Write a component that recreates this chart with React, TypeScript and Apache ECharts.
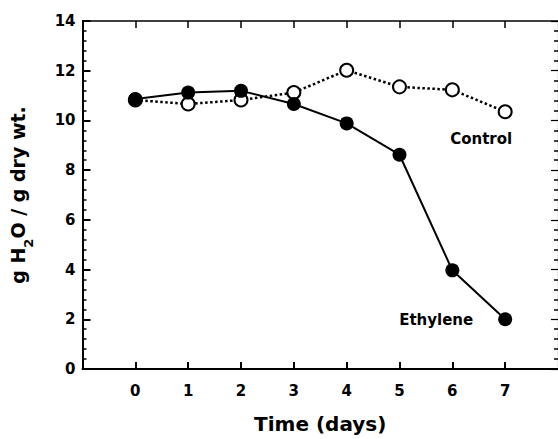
import React, { useEffect, useRef } from "react";
import * as echarts from "echarts";

const days = [0, 1, 2, 3, 4, 5, 6, 7];
const ethylene = [10.86, 11.12, 11.19, 10.66, 9.88, 8.62, 3.97, 2.0];
const control = [10.82, 10.66, 10.82, 11.12, 12.02, 11.35, 11.23, 10.35];
const seriesNames = ["Control", "Ethylene"];
const yTicks = [0, 2, 4, 6, 8, 10, 12, 14];

const FONT = "DejaVu Sans";

export default function App() {
  const ref = useRef<HTMLDivElement>(null);
  useEffect(() => {
    if (!ref.current) return;
    const chart = echarts.init(ref.current, null, { renderer: "svg" });
    const last = days.length - 1;
    const mk = (vals: number[], name: string, offset: number[]) =>
      vals.map((v, i) =>
        i === last
          ? {
              value: [days[i], v],
              label: {
                show: true,
                formatter: name,
                position: "inside",
                offset,
                color: "#000",
                fontFamily: FONT,
                fontWeight: "bold",
                fontSize: 15,
              },
            }
          : { value: [days[i], v] }
      );
    const xCommon = {
      type: "value",
      min: -1,
      max: 8,
      interval: 1,
      splitLine: { show: false },
    };
    const yCommon = {
      type: "value",
      min: yTicks[0],
      max: yTicks[yTicks.length - 1],
      interval: 2,
      splitLine: { show: false },
      minorTick: { show: true, splitNumber: 5, length: 4, lineStyle: { color: "#000", width: 1.5 } },
      minorSplitLine: { show: false },
    };
    chart.setOption({
      animation: false,
      backgroundColor: "#fff",
      grid: { left: 81, right: 0, top: 21, bottom: 70, containLabel: false },
      xAxis: [
        {
          ...xCommon,
          position: "bottom",
          name: "Time (days)",
          nameLocation: "middle",
          nameGap: 45,
          nameTextStyle: { fontFamily: FONT, fontWeight: "bold", fontSize: 20, color: "#000" },
          axisLine: { show: true, onZero: false, lineStyle: { color: "#000", width: 2 } },
          axisTick: { show: true, inside: true, length: 7, customValues: days, lineStyle: { color: "#000", width: 2 } },
          axisLabel: {
            customValues: days,
            margin: 14,
            fontFamily: FONT,
            fontWeight: "bold",
            fontSize: 15,
            color: "#000",
          },
        },
        {
          ...xCommon,
          position: "top",
          axisLine: { show: true, onZero: false, lineStyle: { color: "#000", width: 1.5 } },
          axisTick: { show: true, inside: true, length: 7, customValues: days, lineStyle: { color: "#000", width: 1.5 } },
          axisLabel: { show: false },
        },
      ],
      yAxis: [
        {
          ...yCommon,
          position: "left",
          name: "g H{sub|2}O / g dry wt.",
          nameLocation: "middle",
          nameRotate: 90,
          nameGap: 48,
          nameTextStyle: {
            fontFamily: FONT,
            fontWeight: "bold",
            fontSize: 19,
            color: "#000",
            rich: {
              sub: { fontFamily: FONT, fontWeight: "bold", fontSize: 13, color: "#000", verticalAlign: "bottom", lineHeight: 34 },
            },
          },
          axisLine: { show: true, onZero: false, lineStyle: { color: "#000", width: 2 } },
          axisTick: { show: true, inside: true, length: 8, lineStyle: { color: "#000", width: 2 } },
          axisLabel: { margin: 7, fontFamily: FONT, fontWeight: "bold", fontSize: 15, color: "#000" },
        },
        {
          ...yCommon,
          position: "right",
          axisLine: { show: true, onZero: false, lineStyle: { color: "#000", width: 1.2, type: "dotted" } },
          axisTick: { show: true, inside: true, length: 7, lineStyle: { color: "#000", width: 1.2 } },
          axisLabel: { show: false },
        },
      ],
      series: [
        {
          name: seriesNames[0],
          type: "line",
          data: mk(control, seriesNames[0], [-24, 27]),
          symbol: "circle",
          symbolSize: 13,
          itemStyle: { color: "#fff", borderColor: "#000", borderWidth: 2 },
          lineStyle: { color: "#000", width: 2.5, type: "dotted" },
          z: 2,
        },
        {
          name: seriesNames[1],
          type: "line",
          data: mk(ethylene, seriesNames[1], [-69, 1]),
          symbol: "circle",
          symbolSize: 14,
          itemStyle: { color: "#000", borderColor: "#000", borderWidth: 0 },
          lineStyle: { color: "#000", width: 2 },
          z: 3,
        },
      ],
    });
    return () => chart.dispose();
  }, []);
  return (
    <div
      ref={ref}
      style={{ position: "absolute", left: 0, top: 0, width: 558, height: 439 }}
    />
  );
}
